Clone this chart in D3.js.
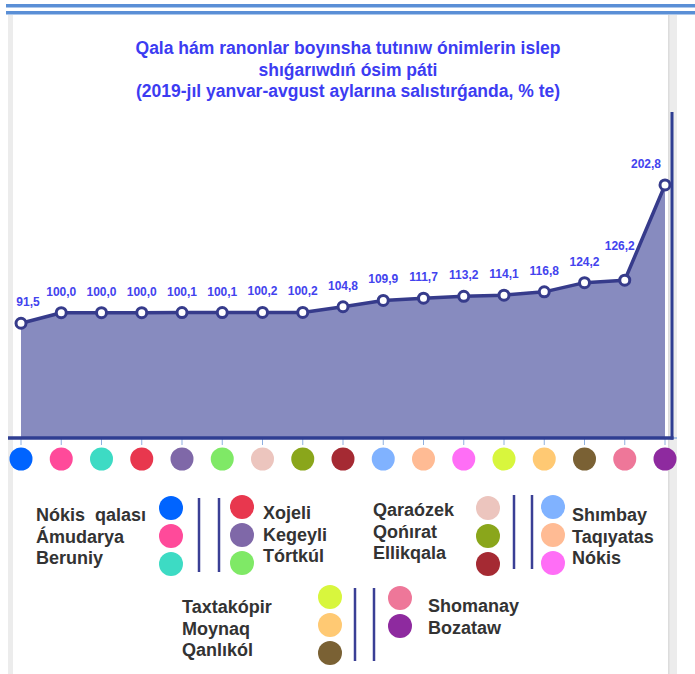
<!DOCTYPE html>
<html>
<head>
<meta charset="utf-8">
<script src="https://cdn.jsdelivr.net/npm/d3@7"></script>
<style>
  body { margin: 0; background: #fff; }
  svg { display: block; font-family: "Liberation Sans", Arial, sans-serif; }
</style>
</head>
<body>
<script>
// region names, in the order they stand along the axis
let regions = ["Nókis qalası", "Ámudarya", "Beruniy", "Xojeli", "Kegeyli", "Tórtkúl",
  "Qaraózek", "Qońırat", "Ellikqala", "Shımbay", "Taqıyatas", "Nókis",
  "Taxtakópir", "Moynaq", "Qanlıkól", "Shomanay", "Bozataw"];

// growth rate, % of Jan-Aug 2019
let values = [91.5, 100.0, 100.0, 100.0, 100.1, 100.1, 100.2, 100.2, 104.8,
  109.9, 111.7, 113.2, 114.1, 116.8, 124.2, 126.2, 202.8];

let regionColors = ["#0064ff", "#ff4a9a", "#3ddbc4", "#e8374e", "#7f68a8", "#7fe966",
  "#ecc5be", "#8aa61b", "#a52a33", "#80b2ff", "#ffbb94", "#ff6ef6",
  "#d8f63d", "#ffc973", "#7a6134", "#ee7799", "#8e2a9f"];

let titleLines = ["Qala hám ranonlar boyınsha tutınıw ónimlerin islep",
  "shıǵarıwdıń ósim páti",
  "(2019-jıl yanvar-avgust aylarına salıstırǵanda, % te)"];

let W = 695, H = 674;
let svg = d3.select("body").append("svg").attr("width", W).attr("height", H);

// frame: two blue bars on top, grey side bands
svg.append("rect").attr("x", 6).attr("y", 4).attr("width", W - 6).attr("height", 3.5).attr("fill", "#5a8fd6");
svg.append("rect").attr("x", 6).attr("y", 11).attr("width", W - 6).attr("height", 3.5).attr("fill", "#5a8fd6");
svg.append("rect").attr("x", 8).attr("y", 15).attr("width", 5).attr("height", H - 15).attr("fill", "#ececec");
svg.append("rect").attr("x", 668).attr("y", 15).attr("width", 9).attr("height", H - 15).attr("fill", "#ececec");
svg.append("rect").attr("x", 668).attr("y", 15).attr("width", 1.5).attr("height", H - 15).attr("fill", "#dcdcdc");

// title
svg.append("g").selectAll("text")
  .data(titleLines)
  .enter()
  .append("text")
  .attr("x", 348)
  .attr("y", (d, i) => 54 + i * 21.5)
  .attr("text-anchor", "middle")
  .attr("font-size", "17.5px")
  .attr("font-weight", "bold")
  .attr("fill", "#3c3cf2")
  .text(d => d);

let x = d3.scalePoint().domain(regions).range([21, 665]);
let y = d3.scaleLinear().domain([0, 210]).range([437, 176]);
let baseY = y(0);

// area + line
let area = d3.area().x((d, i) => x(regions[i])).y0(baseY).y1(d => y(d));
let line = d3.line().x((d, i) => x(regions[i])).y(d => y(d));

svg.append("path").datum(values).attr("d", area).attr("fill", "#878bbf");

// ticks under the axis
svg.append("g").selectAll("line")
  .data(regions)
  .enter()
  .append("line")
  .attr("x1", d => x(d)).attr("x2", d => x(d))
  .attr("y1", baseY + 2).attr("y2", baseY + 8)
  .attr("stroke", "#8fb0e0").attr("stroke-width", 1);

// axis line and right border line
svg.append("line").attr("x1", 672).attr("x2", 677).attr("y1", baseY + 1).attr("y2", baseY + 1)
  .attr("stroke", "#8fb0e0").attr("stroke-width", 1.5);
svg.append("line").attr("x1", 8).attr("x2", 673.5).attr("y1", baseY + 1).attr("y2", baseY + 1)
  .attr("stroke", "#2f3e92").attr("stroke-width", 3.5);
svg.append("line").attr("x1", 672).attr("x2", 672).attr("y1", 112).attr("y2", baseY + 2.5)
  .attr("stroke", "#2f3e92").attr("stroke-width", 3);

svg.append("path").datum(values).attr("d", line)
  .attr("fill", "none").attr("stroke", "#363b8b").attr("stroke-width", 3.5)
  .attr("stroke-linejoin", "round");

svg.append("g").selectAll("circle")
  .data(values)
  .enter()
  .append("circle")
  .attr("cx", (d, i) => x(regions[i]))
  .attr("cy", d => y(d))
  .attr("r", 5)
  .attr("fill", "#fff")
  .attr("stroke", "#363b8b")
  .attr("stroke-width", 3);

// value labels; keep them inside the frame and off a steep next segment
let fmt = d => d3.format(".1f")(d).replace(".", ",");
function steepNext(i) {
  return i < values.length - 1 && values[i + 1] - values[i] > 20;
}
svg.append("g").selectAll("text")
  .data(values)
  .enter()
  .append("text")
  .attr("x", (d, i) => Math.min(Math.max(x(regions[i]), 28), 646) - (steepNext(i) ? 5 : 0))
  .attr("y", (d, i) => y(d) - 17 - (steepNext(i) ? 13 : 0))
  .attr("text-anchor", "middle")
  .attr("font-size", "12px")
  .attr("font-weight", "bold")
  .attr("fill", "#4343ee")
  .text(fmt);

// coloured dots under the axis
svg.append("g").selectAll("circle")
  .data(regions)
  .enter()
  .append("circle")
  .attr("cx", d => x(d))
  .attr("cy", 459)
  .attr("r", 11.5)
  .attr("fill", (d, i) => regionColors[i]);

// legend blocks: text column + dot column
let legendBlocks = [
  { items: [0, 1, 2], textX: 36, textY: 521, dotX: 171, dotY: 508 },
  { items: [3, 4, 5], textX: 263, textY: 519, dotX: 242, dotY: 507 },
  { items: [6, 7, 8], textX: 373, textY: 516, dotX: 488, dotY: 508 },
  { items: [9, 10, 11], textX: 572, textY: 521, dotX: 553, dotY: 507 },
  { items: [12, 13, 14], textX: 182, textY: 613, dotX: 330, dotY: 597 },
  { items: [15, 16], textX: 428, textY: 612, dotX: 400, dotY: 598 }
];
let dividers = [[199, 498, 572], [219, 498, 572], [514, 495, 569], [532, 495, 569], [355, 588, 661], [374, 588, 661]];

let legend = svg.append("g");
legendBlocks.forEach(function(b) {
  let g = legend.append("g");
  g.selectAll("circle")
    .data(b.items)
    .enter()
    .append("circle")
    .attr("cx", b.dotX)
    .attr("cy", (d, i) => b.dotY + i * 28)
    .attr("r", 12)
    .attr("fill", d => regionColors[d]);
  g.selectAll("text")
    .data(b.items)
    .enter()
    .append("text")
    .attr("x", b.textX)
    .attr("y", (d, i) => b.textY + i * 21.5)
    .attr("font-size", "18px")
    .attr("font-weight", "bold")
    .attr("fill", "#333")
    .style("white-space", "pre")
    .text(d => d == 0 ? "Nókis  qalası" : regions[d]);
});

legend.selectAll("line.div")
  .data(dividers)
  .enter()
  .append("line")
  .attr("class", "div")
  .attr("x1", d => d[0]).attr("x2", d => d[0])
  .attr("y1", d => d[1]).attr("y2", d => d[2])
  .attr("stroke", "#3a3f95").attr("stroke-width", 2.5);
</script>
</body>
</html>
